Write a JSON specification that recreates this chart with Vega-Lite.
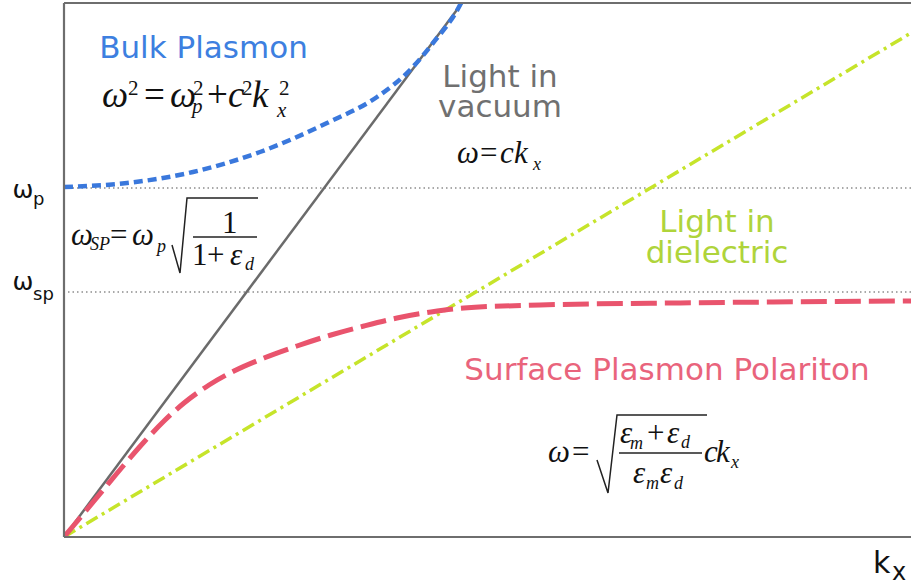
{
  "$schema": "https://vega.github.io/schema/vega-lite/v6.json",
  "width": 847,
  "height": 534,
  "autosize": {"type": "none"},
  "padding": {"left": 64, "top": 3, "right": 0, "bottom": 48},
  "background": "white",
  "config": {"view": {"stroke": null}},
  "datasets": {
    "vacuum": [{"k": 0, "w": 0}, {"k": 398, "w": 534}],
    "dielectric": [{"k": 0, "w": 0}, {"k": 847, "w": 504}],
    "bulk": [
      {"k": 0, "w": 350}, {"k": 63, "w": 354}, {"k": 129, "w": 365}, {"k": 196, "w": 385},
      {"k": 263, "w": 414}, {"k": 313, "w": 440}, {"k": 346, "w": 467}, {"k": 369, "w": 494},
      {"k": 396, "w": 532}, {"k": 398, "w": 536}
    ],
    "spp": [
      {"k": 0, "w": 0}, {"k": 20, "w": 24}, {"k": 40, "w": 48}, {"k": 60, "w": 72},
      {"k": 80, "w": 95}, {"k": 100, "w": 116}, {"k": 120, "w": 134}, {"k": 145, "w": 152},
      {"k": 170, "w": 166}, {"k": 200, "w": 179}, {"k": 233, "w": 191}, {"k": 267, "w": 202},
      {"k": 300, "w": 211}, {"k": 333, "w": 219}, {"k": 367, "w": 225}, {"k": 400, "w": 229},
      {"k": 476, "w": 232}, {"k": 609, "w": 234}, {"k": 709, "w": 235}, {"k": 847, "w": 236}
    ],
    "levels": [{"name": "ωp", "w": 349}, {"name": "ωsp", "w": 245}],
    "labels": [
      {"text": "Bulk Plasmon", "k": 139.5, "w": 479, "group": "bulk"},
      {"text": "Light in", "k": 436, "w": 450, "group": "vacuum"},
      {"text": "vacuum", "k": 436, "w": 420, "group": "vacuum"},
      {"text": "Light in", "k": 653, "w": 305, "group": "dielectric"},
      {"text": "dielectric", "k": 653, "w": 274, "group": "dielectric"},
      {"text": "Surface Plasmon Polariton", "k": 603, "w": 157, "group": "spp"}
    ],
    "levelSymbols": [{"text": "ω", "k": -41, "w": 339}, {"text": "ω", "k": -41, "w": 247}],
    "levelSubs": [{"text": "p", "k": -31, "w": 332}, {"text": "sp", "k": -31, "w": 237}],
    "axisK": [{"text": "k", "k": 809, "w": -36}],
    "axisKSub": [{"text": "x", "k": 828, "w": -43}],
    "eq1Italic": [
      {"text": "ω", "k": 38, "w": 430}, {"text": "ω", "k": 106, "w": 430},
      {"text": "c", "k": 164, "w": 430}, {"text": "k", "k": 188, "w": 430}
    ],
    "eq1Upright": [{"text": "=", "k": 80, "w": 430}, {"text": "+", "k": 143, "w": 430}],
    "eq1Sup": [
      {"text": "2", "k": 64, "w": 442}, {"text": "2", "k": 129, "w": 442},
      {"text": "2", "k": 178, "w": 442}, {"text": "2", "k": 215, "w": 442}
    ],
    "eq1Sub": [{"text": "p", "k": 128, "w": 424}, {"text": "x", "k": 213, "w": 420}],
    "eqItalic": [
      {"text": "ω", "k": 393, "w": 374}, {"text": "c", "k": 436, "w": 374}, {"text": "k", "k": 450, "w": 374},
      {"text": "ω", "k": 7, "w": 292}, {"text": "ω", "k": 68, "w": 292}, {"text": "ε", "k": 166, "w": 272},
      {"text": "ω", "k": 484, "w": 75}, {"text": "ε", "k": 556, "w": 94}, {"text": "ε", "k": 603, "w": 94},
      {"text": "ε", "k": 569, "w": 54}, {"text": "ε", "k": 596, "w": 54},
      {"text": "c", "k": 640, "w": 75}, {"text": "k", "k": 652, "w": 75}
    ],
    "eqUpright": [
      {"text": "=", "k": 416, "w": 374},
      {"text": "=", "k": 46, "w": 292}, {"text": "1", "k": 158, "w": 304},
      {"text": "1", "k": 128, "w": 272}, {"text": "+", "k": 143, "w": 272},
      {"text": "=", "k": 508, "w": 75}, {"text": "+", "k": 583, "w": 94}
    ],
    "eqSub": [
      {"text": "x", "k": 469, "w": 367},
      {"text": "SP", "k": 26, "w": 287}, {"text": "p", "k": 93, "w": 285}, {"text": "d", "k": 181, "w": 267},
      {"text": "m", "k": 566, "w": 88}, {"text": "d", "k": 617, "w": 89},
      {"text": "m", "k": 582, "w": 48}, {"text": "d", "k": 610, "w": 48},
      {"text": "x", "k": 667, "w": 69}
    ],
    "fractionBars": [{"k": 129, "k2": 193, "w": 300}, {"k": 555, "k2": 638, "w": 84}],
    "radicals": [
      {"eq": "sp", "i": 0, "k": 108, "w": 292}, {"eq": "sp", "i": 1, "k": 116, "w": 264},
      {"eq": "sp", "i": 2, "k": 123, "w": 339}, {"eq": "sp", "i": 3, "k": 194, "w": 339},
      {"eq": "spp", "i": 0, "k": 533, "w": 77}, {"eq": "spp", "i": 1, "k": 544, "w": 44},
      {"eq": "spp", "i": 2, "k": 553, "w": 122}, {"eq": "spp", "i": 3, "k": 643, "w": 122}
    ]
  },
  "encoding": {
    "x": {"field": "k", "type": "quantitative", "scale": {"domain": [0, 847], "nice": false, "zero": false}, "axis": null},
    "y": {"field": "w", "type": "quantitative", "scale": {"domain": [0, 534], "nice": false, "zero": false}, "axis": null}
  },
  "layer": [
    {
      "data": {"name": "levels"},
      "mark": {"type": "rule", "color": "#555555", "strokeWidth": 1.2, "strokeDash": [1.5, 3]},
      "encoding": {"x": null}
    },
    {
      "data": {"name": "dielectric"},
      "mark": {"type": "line", "color": "#c6e42a", "strokeWidth": 3.5, "strokeDash": [13, 5, 3, 5], "clip": true}
    },
    {
      "data": {"name": "vacuum"},
      "mark": {"type": "line", "color": "#6b6b6b", "strokeWidth": 2.5, "clip": true}
    },
    {
      "data": {"name": "bulk"},
      "mark": {"type": "line", "color": "#3a78dc", "strokeWidth": 4.5, "strokeDash": [9, 5], "interpolate": "monotone", "clip": true}
    },
    {
      "data": {"name": "spp"},
      "mark": {"type": "line", "color": "#e9546d", "strokeWidth": 5, "strokeDash": [26, 8], "interpolate": "monotone", "clip": true}
    },
    {
      "data": {"name": "labels"},
      "mark": {"type": "text", "font": "DejaVu Sans", "fontSize": 31, "align": "center", "baseline": "alphabetic"},
      "encoding": {
        "text": {"field": "text"},
        "color": {
          "field": "group", "type": "nominal", "legend": null,
          "scale": {"domain": ["bulk", "vacuum", "dielectric", "spp"], "range": ["#3d7fe0", "#707070", "#afd43b", "#e9647c"]}
        }
      }
    },
    {
      "data": {"name": "levelSymbols"},
      "mark": {"type": "text", "font": "DejaVu Sans", "fontSize": 25, "align": "center", "baseline": "alphabetic", "color": "#111111"},
      "encoding": {"text": {"field": "text"}}
    },
    {
      "data": {"name": "levelSubs"},
      "mark": {"type": "text", "font": "DejaVu Sans", "fontSize": 18, "align": "left", "baseline": "alphabetic", "color": "#111111"},
      "encoding": {"text": {"field": "text"}}
    },
    {
      "data": {"name": "axisK"},
      "mark": {"type": "text", "font": "DejaVu Sans", "fontSize": 30, "align": "left", "baseline": "alphabetic", "color": "#111111"},
      "encoding": {"text": {"field": "text"}}
    },
    {
      "data": {"name": "axisKSub"},
      "mark": {"type": "text", "font": "DejaVu Sans", "fontSize": 24, "align": "left", "baseline": "alphabetic", "color": "#111111"},
      "encoding": {"text": {"field": "text"}}
    },
    {
      "data": {"name": "eq1Italic"},
      "mark": {"type": "text", "font": "Liberation Serif", "fontStyle": "italic", "fontSize": 37, "align": "left", "baseline": "alphabetic", "color": "#111111"},
      "encoding": {"text": {"field": "text"}}
    },
    {
      "data": {"name": "eq1Upright"},
      "mark": {"type": "text", "font": "Liberation Serif", "fontSize": 37, "align": "left", "baseline": "alphabetic", "color": "#111111"},
      "encoding": {"text": {"field": "text"}}
    },
    {
      "data": {"name": "eq1Sup"},
      "mark": {"type": "text", "font": "Liberation Serif", "fontSize": 21, "align": "left", "baseline": "alphabetic", "color": "#111111"},
      "encoding": {"text": {"field": "text"}}
    },
    {
      "data": {"name": "eq1Sub"},
      "mark": {"type": "text", "font": "Liberation Serif", "fontStyle": "italic", "fontSize": 21, "align": "left", "baseline": "alphabetic", "color": "#111111"},
      "encoding": {"text": {"field": "text"}}
    },
    {
      "data": {"name": "eqItalic"},
      "mark": {"type": "text", "font": "Liberation Serif", "fontStyle": "italic", "fontSize": 31, "align": "left", "baseline": "alphabetic", "color": "#111111"},
      "encoding": {"text": {"field": "text"}}
    },
    {
      "data": {"name": "eqUpright"},
      "mark": {"type": "text", "font": "Liberation Serif", "fontSize": 31, "align": "left", "baseline": "alphabetic", "color": "#111111"},
      "encoding": {"text": {"field": "text"}}
    },
    {
      "data": {"name": "eqSub"},
      "mark": {"type": "text", "font": "Liberation Serif", "fontStyle": "italic", "fontSize": 18, "align": "left", "baseline": "alphabetic", "color": "#111111"},
      "encoding": {"text": {"field": "text"}}
    },
    {
      "data": {"name": "fractionBars"},
      "mark": {"type": "rule", "color": "#222222", "strokeWidth": 1.3},
      "encoding": {"x2": {"field": "k2"}}
    },
    {
      "data": {"name": "radicals"},
      "mark": {"type": "line", "color": "#222222", "strokeWidth": 1.5, "strokeJoin": "miter"},
      "encoding": {"detail": {"field": "eq"}, "order": {"field": "i", "type": "quantitative"}}
    },
    {
      "data": {"values": [{"edge": "top", "w": 534}, {"edge": "bottom", "w": 0}]},
      "mark": {"type": "rule", "color": "#6e6e6e", "strokeWidth": 2.2},
      "encoding": {"x": null}
    },
    {
      "data": {"values": [{"edge": "left", "k": 0}]},
      "mark": {"type": "rule", "color": "#6e6e6e", "strokeWidth": 2.2},
      "encoding": {"y": null}
    }
  ]
}
